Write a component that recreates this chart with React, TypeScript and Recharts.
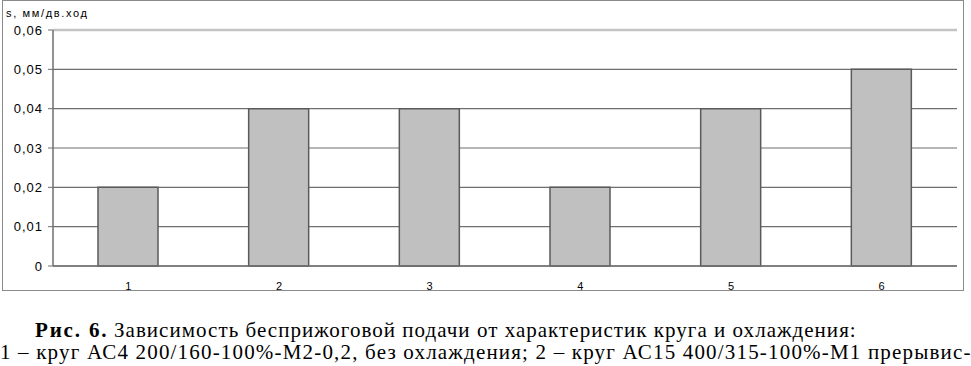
import { useLayoutEffect, useRef, useState } from 'react'
import { BarChart, Bar, XAxis, YAxis, CartesianGrid, ReferenceLine } from 'recharts'

// categories (wheel / cooling variants) and measured feed, mm per double stroke
const categories = ['1', '2', '3', '4', '5', '6']
const feed = [0.02, 0.04, 0.04, 0.02, 0.04, 0.05]
const yTicks = [0, 0.01, 0.02, 0.03, 0.04, 0.05, 0.06]
const edgeTicks = [0, 1, 2, 3, 4, 5, 6]

const axisTitle = 's, мм/дв.ход'
const captionHead = 'Рис. 6.'
const captionLine1 = 'Зависимость бесприжоговой подачи от характеристик круга и охлаждения:'
const captionLine2 = '1 – круг АС4 200/160-100%-М2-0,2, без охлаждения; 2 – круг АС15 400/315-100%-М1 прерывис-'

const data = categories.map((c, i) => ({ name: c, s: feed[i] }))

const fmt = (v: number) => (v === 0 ? '0' : v.toFixed(2).replace('.', ','))

const sans = 'Arial, "Liberation Sans", sans-serif'
const serif = '"Liberation Serif", "Times New Roman", serif'

// caption line spread out with letter spacing until it fills the given width
function FitText({ text, left, baseline, width, size, bold, font }: {
  text: string; left: number; baseline: number; width: number; size: number; bold?: boolean; font: string
}) {
  const ref = useRef<HTMLSpanElement>(null)
  const [ls, setLs] = useState<number | null>(null)
  useLayoutEffect(() => {
    if (ref.current && ls === null) {
      const natural = ref.current.offsetWidth
      setLs((width - natural) / Math.max(1, text.length - 1))
    }
  }, [text, width, ls])
  return (
    <span
      ref={ref}
      style={{
        position: 'absolute', left, top: baseline - size, whiteSpace: 'nowrap',
        fontFamily: font, fontSize: size, fontWeight: bold ? 'bold' : 'normal', lineHeight: `${size * 1.2}px`,
        letterSpacing: ls ?? 0, color: '#000',
      }}
    >
      {text}
    </span>
  )
}

export default function App() {
  return (
    <div style={{ position: 'absolute', left: 0, top: 0, width: 971, height: 366, background: '#fff', overflow: 'hidden' }}>
      {/* outer chart frame */}
      <div style={{ position: 'absolute', left: 2, top: 0, width: 960, height: 289, border: '1.5px solid #8a8a8a' }} />
      <div style={{ position: 'absolute', left: 0, top: 0 }}>
        <BarChart width={971} height={300} data={data} margin={{ top: 30, right: 14, left: 13, bottom: 14 }} barCategoryGap={0}>
          <CartesianGrid vertical={false} stroke="#6f6f6f" strokeWidth={1.2} />
          <XAxis
            xAxisId="edge"
            type="number"
            domain={[0, 6]}
            ticks={edgeTicks}
            tick={false}
            axisLine={false}
            tickLine={{ stroke: '#9a9a9a' }}
            tickSize={4}
            height={0}
          />
          <XAxis
            dataKey="name"
            axisLine={{ stroke: '#6f6f6f', strokeWidth: 1.5 }}
            tickLine={false}
            tickMargin={10}
            height={20}
            tick={{ fontSize: 11, fill: '#000', fontFamily: sans }}
          />
          <YAxis
            domain={[0, 0.06]}
            ticks={yTicks}
            tickFormatter={fmt}
            width={40}
            tickSize={5}
            tickMargin={5}
            axisLine={{ stroke: '#6f6f6f', strokeWidth: 1.5 }}
            tickLine={{ stroke: '#6f6f6f' }}
            tick={{ fontSize: 13, fill: '#000', letterSpacing: 1, fontFamily: sans }}
          />
          <YAxis
            yAxisId="right"
            orientation="right"
            domain={[0, 0.06]}
            width={0}
            tick={false}
            tickLine={false}
            axisLine={{ stroke: '#c4c4c4', strokeWidth: 2.5 }}
          />
          <ReferenceLine y={0.06} stroke="#c4c4c4" strokeWidth={2.5} />
          <Bar dataKey="s" fill="#c0c0c0" stroke="#5a5a5a" strokeWidth={1.5} barSize={60} isAnimationActive={false} />
        </BarChart>
      </div>
      <svg width={971} height={40} style={{ position: 'absolute', left: 0, top: 0, pointerEvents: 'none' }}>
        <text x={6} y={17} style={{ fontSize: 11, fontFamily: sans }} textLength={81} lengthAdjust="spacing">
          {axisTitle}
        </text>
      </svg>
      <FitText text={captionHead} left={35} baseline={339} width={72} size={21} bold font={serif} />
      <FitText text={captionLine1} left={114} baseline={339} width={742} size={21} font={serif} />
      <FitText text={captionLine2} left={0} baseline={361} width={970} size={21} font={serif} />
    </div>
  )
}
